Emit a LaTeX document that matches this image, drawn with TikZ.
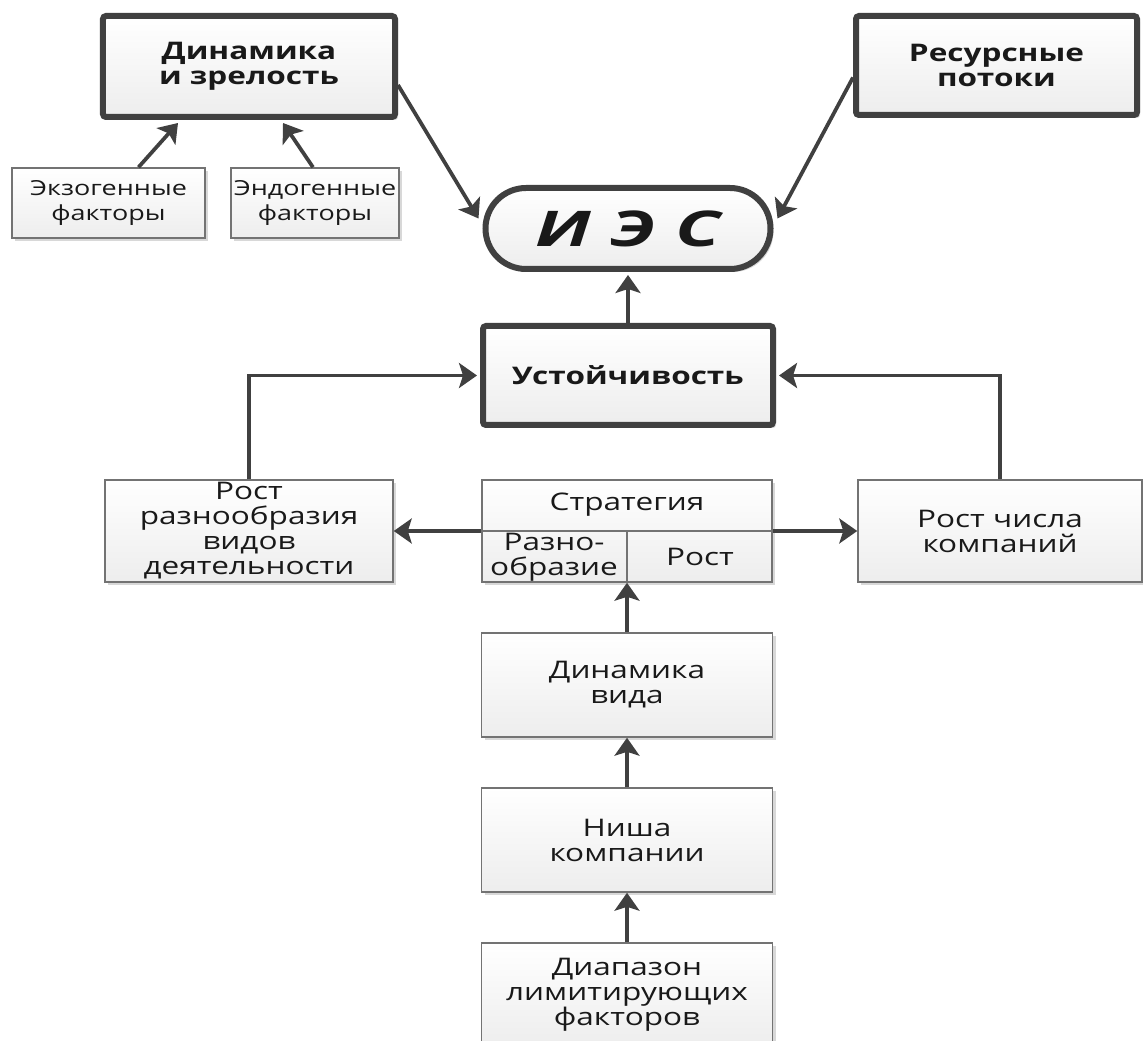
\documentclass[tikz,border=0pt]{standalone}
\usepackage{fontspec}
\setmainfont[FakeStretch=1.3]{Open Sans}
\usetikzlibrary{arrows.meta,shapes.misc,shadows}

\begin{document}
\begin{tikzpicture}[x=0.2mm,y=-0.2mm,
    box/.style={draw=black!55,line width=0.3mm,top color=white,bottom color=black!7,
      drop shadow={shadow xshift=0.6mm,shadow yshift=-0.6mm,fill=black!30,opacity=0.5},
      align=center,inner sep=0pt,text=black!90,font=\fontsize{13.8}{14.2}\selectfont},
    mainbox/.style={box,draw=black!75,line width=1.2mm,rounded corners=0.6mm,
      font=\fontsize{13.8}{14.2}\selectfont\bfseries},
    lbl/.style={align=center,inner sep=0pt,text=black!90,font=\fontsize{13.8}{14.2}\selectfont},
    link/.style={draw=black!75,line width=0.75mm,-{Stealth[length=3.6mm,width=5mm,inset=0.8mm]}}]
    \useasboundingbox (0,0) rectangle (1143,1041);
    \node[mainbox,minimum width=58.4mm,minimum height=20.2mm] (dyn) at (249,66.5) {Динамика\\и зрелость};
    \node[mainbox,minimum width=56.2mm,minimum height=19.8mm] (res) at (996.5,65.5) {Ресурсные\\потоки};
    \node[box,minimum width=38.6mm,minimum height=14mm,font=\fontsize{11.8}{14.2}\selectfont] (exo) at (108.5,203) {Экзогенные\\факторы};
    \node[box,minimum width=33.6mm,minimum height=14mm,font=\fontsize{11.8}{14.2}\selectfont] (endo) at (315,203) {Эндогенные\\факторы};
    \node[mainbox,rounded rectangle,sharp corners,minimum width=57mm,minimum height=16.2mm,
      font=\fontsize{28}{28}\selectfont\addfontfeatures{FakeStretch=1.5}\bfseries\itshape] (ies) at (628,228.5) {И Э С};
    \node[mainbox,minimum width=58mm,minimum height=19.8mm] (ust) at (628,375.5) {Устойчивость};
    \node[box,minimum width=57.6mm,minimum height=20.4mm] (div) at (249,531) {Рост\\разнообразия\\видов\\деятельности};
    \node[box,minimum width=58mm,minimum height=20.4mm] (strat) at (627,531) {};
    \node[box,minimum width=56.8mm,minimum height=20.4mm] (num) at (1000,531) {Рост числа\\компаний};
    \node[box,minimum width=58.2mm,minimum height=20.8mm] (dynv) at (627,685) {Динамика\\вида};
    \node[box,minimum width=58.2mm,minimum height=20.8mm] (niche) at (627,840) {Ниша\\компании};
    \node[box,minimum width=58.2mm,minimum height=20.8mm] (range) at (627,995) {Диапазон\\лимитирующих\\факторов};
    \draw[draw=black!55,line width=0.3mm] (strat.west) -- (strat.east) (strat.center) -- (strat.south);
    \node[lbl] (stratT) at (627,505) {Стратегия};
    \node[lbl] (stratL) at (554,557) {Разно-\\образие};
    \node[lbl] (stratR) at (700,557) {Рост};
    \draw[link] ([xshift=6mm]exo.north) -- ([xshift=-14.2mm,yshift=-0.6mm]dyn.south);
    \draw[link] ([xshift=-0.4mm]endo.north) -- ([xshift=6.8mm,yshift=-0.6mm]dyn.south);
    \draw[link] ([yshift=-3.7mm]dyn.east) -- ([xshift=-0.8mm,yshift=2mm]ies.west);
    \draw[link] ([yshift=-2.4mm]res.west) -- ([xshift=0.8mm,yshift=2mm]ies.east);
    \draw[link] (ust.north) -- ([yshift=-0.6mm]ies.south);
    \draw[link] (div.north) |- ([xshift=-0.6mm]ust.west);
    \draw[link] (num.north) |- ([xshift=0.6mm]ust.east);
    \draw[link] (strat.west) -- (div.east);
    \draw[link] (strat.east) -- (num.west);
    \draw[link] (dynv.north) -- (strat.south);
    \draw[link] (niche.north) -- (dynv.south);
    \draw[link] (range.north) -- (niche.south);
\end{tikzpicture}
\end{document}
